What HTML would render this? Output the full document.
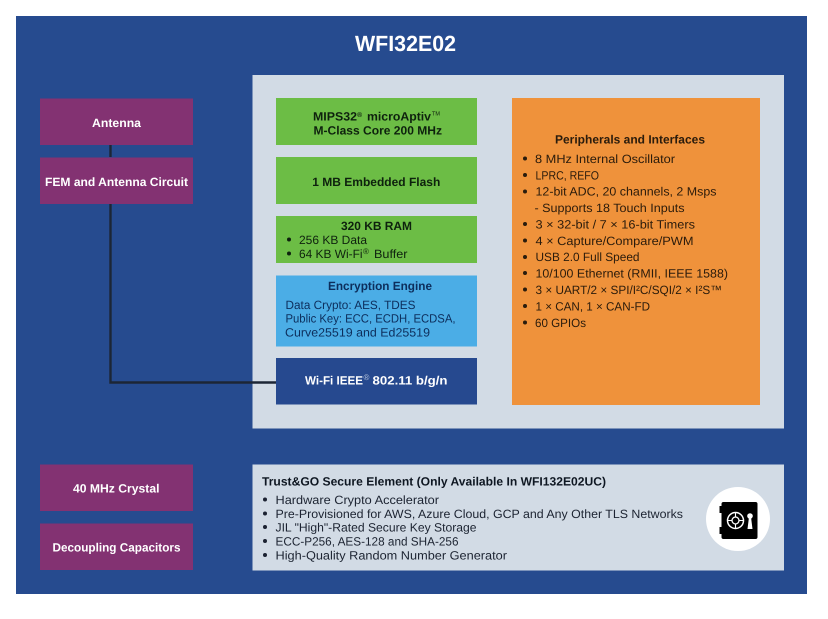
<!DOCTYPE html>
<html><head><meta charset="utf-8"><style>
html,body{margin:0;padding:0;background:#fff;width:828px;height:619px;overflow:hidden}
svg{display:block}
text{font-family:"Liberation Sans",sans-serif;font-size:12px;text-rendering:geometricPrecision}
.b{font-weight:bold}
.w{fill:#fff;font-weight:bold}
.k{fill:#10210f}
.o{fill:#2a1a0a}
.t{fill:#1c2430}
.e{fill:#0d2e5c}
</style></head><body>
<svg width="828" height="619" viewBox="0 0 828 619" xmlns="http://www.w3.org/2000/svg">
<defs><filter id="s" x="0" y="0" width="100%" height="100%"><feGaussianBlur stdDeviation="0.3"/></filter></defs>
<g filter="url(#s)">
<rect x="16" y="16" width="791" height="578" fill="#274b8f"/>
<rect x="252.500" y="75" width="531.500" height="353.500" fill="#d2dbe5"/>
<rect x="252.500" y="464.500" width="531.500" height="106" fill="#d2dbe5"/>
<path d="M110.500 145V157M110.500 204V382.500H276" fill="none" stroke="#1c2736" stroke-width="2.400"/>
<rect x="40" y="98.500" width="153" height="46.500" fill="#833372"/>
<rect x="40" y="157.500" width="153" height="46.500" fill="#833372"/>
<rect x="40" y="464.500" width="153" height="46.500" fill="#833372"/>
<rect x="40" y="523.500" width="153" height="46.500" fill="#833372"/>
<rect x="276" y="98" width="201" height="47" fill="#6cbd45"/>
<rect x="276" y="157" width="201" height="47" fill="#6cbd45"/>
<rect x="276" y="216" width="201" height="47" fill="#6cbd45"/>
<rect x="276" y="275.500" width="201" height="71" fill="#4bade6"/>
<rect x="276" y="358" width="201" height="46.500" fill="#26498f"/>
<rect x="512" y="98" width="248" height="307" fill="#ef923a"/>

<text class="w" x="355" y="51" style="font-size:22px" textLength="101" lengthAdjust="spacingAndGlyphs">WFI32E02</text>
<text class="w" x="92" y="127" textLength="49" lengthAdjust="spacingAndGlyphs">Antenna</text>
<text class="w" x="45" y="186" textLength="143" lengthAdjust="spacingAndGlyphs">FEM and Antenna Circuit</text>
<text class="w" x="73" y="492.700" textLength="86.500" lengthAdjust="spacingAndGlyphs">40 MHz Crystal</text>
<text class="w" x="52.500" y="551.700" textLength="128" lengthAdjust="spacingAndGlyphs">Decoupling Capacitors</text>

<text class="k b" x="313" y="120.500" textLength="44" lengthAdjust="spacingAndGlyphs">MIPS32</text>
<text class="k b" x="357" y="117" style="font-size:7px">®</text>
<text class="k b" x="367" y="120.500" textLength="64" lengthAdjust="spacingAndGlyphs">microAptiv</text>
<text class="k" x="432" y="115.500" style="font-size:6px" textLength="8" lengthAdjust="spacingAndGlyphs">TM</text>
<text class="k b" x="313.500" y="134.500" textLength="128.500" lengthAdjust="spacingAndGlyphs">M-Class Core 200 MHz</text>
<text class="k b" x="312.300" y="186" textLength="128" lengthAdjust="spacingAndGlyphs">1 MB Embedded Flash</text>
<text class="k b" x="341" y="230" textLength="71" lengthAdjust="spacingAndGlyphs">320 KB RAM</text>
<circle cx="289" cy="239.500" r="2" fill="#10210f"/>
<circle cx="289" cy="253.500" r="2" fill="#10210f"/>
<text class="k" x="299" y="244" textLength="68" lengthAdjust="spacingAndGlyphs">256 KB Data</text>
<text class="k" x="299" y="258" textLength="63.500" lengthAdjust="spacingAndGlyphs">64 KB Wi-Fi</text>
<text class="k" x="363" y="254" style="font-size:8px">®</text>
<text class="k" x="374" y="258" textLength="33.500" lengthAdjust="spacingAndGlyphs">Buffer</text>

<text class="e b" x="328" y="290" textLength="104" lengthAdjust="spacingAndGlyphs">Encryption Engine</text>
<text class="e" x="285.500" y="309" textLength="130" lengthAdjust="spacingAndGlyphs">Data Crypto: AES, TDES</text>
<text class="e" x="285.500" y="322.700" textLength="170" lengthAdjust="spacingAndGlyphs">Public Key: ECC, ECDH, ECDSA,</text>
<text class="e" x="285" y="336.700" textLength="145" lengthAdjust="spacingAndGlyphs">Curve25519 and Ed25519</text>

<text class="w" x="305" y="384.300" textLength="58" lengthAdjust="spacingAndGlyphs">Wi-Fi IEEE</text>
<text class="w" x="363.500" y="380" style="font-size:8px;fill:#b9c6dc;font-weight:normal">®</text>
<text class="w" x="372.500" y="384.300" textLength="75" lengthAdjust="spacingAndGlyphs">802.11 b/g/n</text>

<text class="o b" x="555" y="143.500" textLength="150" lengthAdjust="spacingAndGlyphs">Peripherals and Interfaces</text>
<g fill="#2a1a0a">
<circle cx="525" cy="158.500" r="2"/><circle cx="525" cy="175" r="2"/><circle cx="525" cy="191.500" r="2"/>
<circle cx="525" cy="224" r="2"/><circle cx="525" cy="240.500" r="2"/><circle cx="525" cy="257" r="2"/>
<circle cx="525" cy="273" r="2"/><circle cx="525" cy="289.500" r="2"/><circle cx="525" cy="306" r="2"/><circle cx="525" cy="322.500" r="2"/>
</g>
<text class="o" x="535" y="163" textLength="140" lengthAdjust="spacingAndGlyphs">8 MHz Internal Oscillator</text>
<text class="o" x="535.500" y="179.700" textLength="63.500" lengthAdjust="spacingAndGlyphs">LPRC, REFO</text>
<text class="o" x="535.500" y="195.700" textLength="181" lengthAdjust="spacingAndGlyphs">12-bit ADC, 20 channels, 2 Msps</text>
<text class="o" x="534.500" y="212" textLength="150" lengthAdjust="spacingAndGlyphs">- Supports 18 Touch Inputs</text>
<text class="o" x="535.500" y="228.700" textLength="159.500" lengthAdjust="spacingAndGlyphs">3 × 32-bit / 7 × 16-bit Timers</text>
<text class="o" x="535.500" y="245" textLength="158" lengthAdjust="spacingAndGlyphs">4 × Capture/Compare/PWM</text>
<text class="o" x="535.500" y="261" textLength="104" lengthAdjust="spacingAndGlyphs">USB 2.0 Full Speed</text>
<text class="o" x="535.500" y="277.700" textLength="192.500" lengthAdjust="spacingAndGlyphs">10/100 Ethernet (RMII, IEEE 1588)</text>
<text class="o" x="535.500" y="294" textLength="186.500" lengthAdjust="spacingAndGlyphs">3 × UART/2 × SPI/I²C/SQI/2 × I²S™</text>
<text class="o" x="535.500" y="310.700" textLength="114.500" lengthAdjust="spacingAndGlyphs">1 × CAN, 1 × CAN-FD</text>
<text class="o" x="535" y="327" textLength="51" lengthAdjust="spacingAndGlyphs">60 GPIOs</text>

<text class="b" fill="#111820" x="262" y="485.700" textLength="344" lengthAdjust="spacingAndGlyphs">Trust&amp;GO Secure Element (Only Available In WFI132E02UC)</text>
<g fill="#1c2430">
<circle cx="265" cy="499.500" r="2"/><circle cx="265" cy="513.500" r="2"/><circle cx="265" cy="527" r="2"/><circle cx="265" cy="541" r="2"/><circle cx="265" cy="555" r="2"/>
</g>
<text class="t" x="275.500" y="504" textLength="163.500" lengthAdjust="spacingAndGlyphs">Hardware Crypto Accelerator</text>
<text class="t" x="275.500" y="518" textLength="407.500" lengthAdjust="spacingAndGlyphs">Pre-Provisioned for AWS, Azure Cloud, GCP and Any Other TLS Networks</text>
<text class="t" x="275.500" y="531.700" textLength="201" lengthAdjust="spacingAndGlyphs">JIL "High"-Rated Secure Key Storage</text>
<text class="t" x="275.500" y="545.700" textLength="183" lengthAdjust="spacingAndGlyphs">ECC-P256, AES-128 and SHA-256</text>
<text class="t" x="275.500" y="559.700" textLength="231.500" lengthAdjust="spacingAndGlyphs">High-Quality Random Number Generator</text>

<circle cx="738" cy="519" r="32" fill="#fff"/>
<rect x="721.500" y="502" width="36" height="37" rx="2" fill="#000"/>
<rect x="719.500" y="506" width="3" height="7" fill="#000"/>
<rect x="719.500" y="527" width="3" height="7" fill="#000"/>
<circle cx="735.500" cy="520.500" r="8" fill="none" stroke="#fff" stroke-width="1.500"/>
<circle cx="735.500" cy="520.500" r="3.500" fill="none" stroke="#fff" stroke-width="1.300"/>
<path d="M735.500 512.500V517M735.500 524V528.500M727.500 520.500H732M739 520.500H743.500" stroke="#fff" stroke-width="1.100"/>
<circle cx="750" cy="516" r="2.800" fill="#fff"/>
<path d="M749 517L747.500 529H752.500L751 517Z" fill="#fff"/>
</g>
</svg>
</body></html>
